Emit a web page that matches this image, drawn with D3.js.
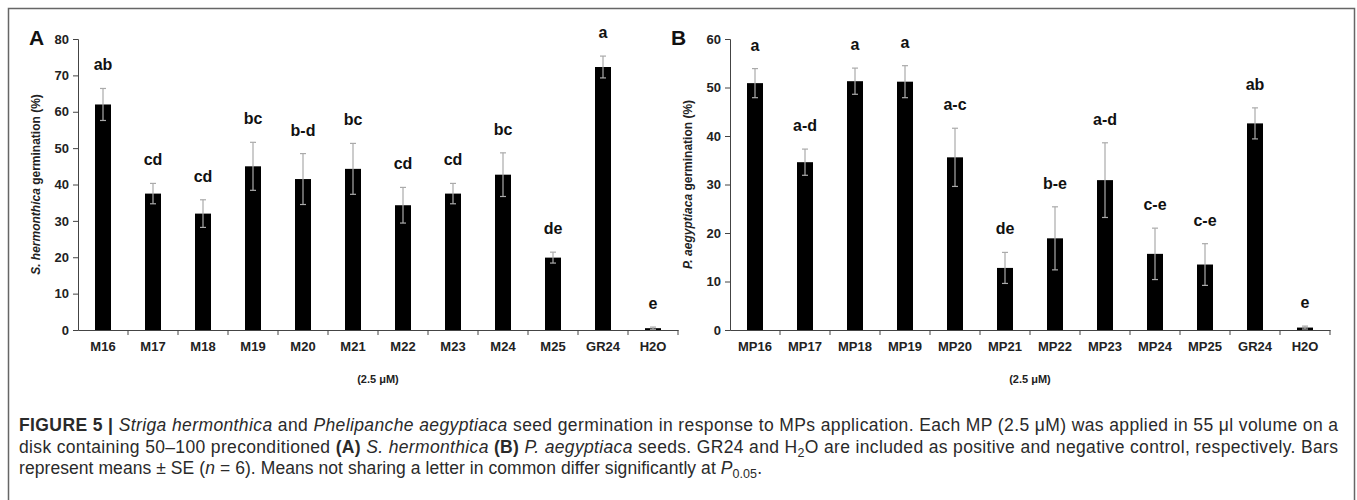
<!DOCTYPE html>
<html>
<head>
<meta charset="utf-8">
<script src="https://cdn.jsdelivr.net/npm/d3@7"></script>
<style>
  body { margin: 0; background: #fff; }
  svg { display: block; font-family: "Liberation Sans", Arial, sans-serif; }
</style>
</head>
<body>
<main></main>
<script>
// DATA
// panel A: S. hermonthica
const catsA = ["M16", "M17", "M18", "M19", "M20", "M21", "M22", "M23", "M24", "M25", "GR24", "H2O"];
const meansA = [62, 37.5, 32, 45, 41.5, 44.3, 34.3, 37.5, 42.7, 19.9, 72.3, 0.5];
const seA = [4.4, 2.8, 3.8, 6.6, 7, 7, 4.9, 2.8, 6, 1.5, 3, 0.3];
const lettersA = ["ab", "cd", "cd", "bc", "b-d", "bc", "cd", "cd", "bc", "de", "a", "e"];
const ticksA = [0, 10, 20, 30, 40, 50, 60, 70, 80];

// panel B: P. aegyptiaca
const catsB = ["MP16", "MP17", "MP18", "MP19", "MP20", "MP21", "MP22", "MP23", "MP24", "MP25", "GR24", "H2O"];
const meansB = [50.9, 34.6, 51.3, 51.2, 35.6, 12.8, 18.9, 30.9, 15.7, 13.5, 42.6, 0.5];
const seB = [3, 2.7, 2.7, 3.3, 6, 3.2, 6.5, 7.7, 5.3, 4.3, 3.2, 0.3];
const lettersB = ["a", "a-d", "a", "a", "a-c", "de", "b-e", "a-d", "c-e", "c-e", "ab", "e"];
const ticksB = [0, 10, 20, 30, 40, 50, 60];


// dimension
const W = 1357, H = 500;
const plotTop = 39, plotBottom = 330;

const svg = d3.select("main").append("svg").attr("width", W).attr("height", H);

// outer frame
svg.append("rect")
	.attr("x", 8.5).attr("y", 8.5)
	.attr("width", 1346).attr("height", 520)
	.attr("fill", "none").attr("stroke", "#666").attr("stroke-width", 1.5);


// draw one panel
function drawPanel(p) {
	const x = d3.scaleBand().domain(p.cats).range([p.left, p.left + 600]);
	const y = d3.scaleLinear().domain([0, d3.max(p.ticks)]).range([plotBottom, plotTop]);
	const g = svg.append("g");

	// y axis
	const yAxis = d3.axisLeft(y).tickValues(p.ticks).tickSize(5).tickPadding(4);
	const ya = g.append("g").attr("transform", "translate(" + p.left + ",0)").call(yAxis);
	ya.select(".domain").attr("stroke", "#444");
	ya.selectAll(".tick line").attr("stroke", "#444");
	ya.selectAll(".tick text").attr("font-size", 13).attr("font-weight", "bold")
		.attr("fill", "#222").attr("font-family", "Liberation Sans, Arial, sans-serif");

	// x axis: labels at centre, ticks at band edges
	const xAxis = d3.axisBottom(x).tickSize(0).tickPadding(12);
	const xa = g.append("g").attr("transform", "translate(0," + plotBottom + ")").call(xAxis);
	xa.select(".domain").attr("stroke", "#444");
	xa.selectAll(".tick text").attr("font-size", 13).attr("font-weight", "bold")
		.attr("fill", "#222").attr("font-family", "Liberation Sans, Arial, sans-serif");
	g.selectAll(".edge").data(p.cats).enter().append("line")
		.attr("x1", d => x(d) + x.bandwidth()).attr("x2", d => x(d) + x.bandwidth())
		.attr("y1", plotBottom).attr("y2", plotBottom + 5)
		.attr("stroke", "#444");

	// bars
	const bw = x.bandwidth() * 0.32;
	g.selectAll(".bar").data(p.means).enter().append("rect")
		.attr("x", (d, i) => x(p.cats[i]) + (x.bandwidth() - bw) / 2)
		.attr("y", d => y(d))
		.attr("width", bw)
		.attr("height", d => plotBottom - y(d))
		.attr("fill", "#000");

	// error bars
	const cx = i => x(p.cats[i]) + x.bandwidth() / 2;
	const eb = g.selectAll(".err").data(p.means).enter().append("g").attr("stroke", "#aaa").attr("stroke-width", 1.2);
	eb.append("line")
		.attr("x1", (d, i) => cx(i)).attr("x2", (d, i) => cx(i))
		.attr("y1", (d, i) => y(d + p.se[i])).attr("y2", (d, i) => y(Math.max(0, d - p.se[i])));
	eb.append("line")
		.attr("x1", (d, i) => cx(i) - 3).attr("x2", (d, i) => cx(i) + 3)
		.attr("y1", (d, i) => y(d + p.se[i])).attr("y2", (d, i) => y(d + p.se[i]));
	eb.append("line")
		.attr("x1", (d, i) => cx(i) - 3).attr("x2", (d, i) => cx(i) + 3)
		.attr("y1", (d, i) => y(Math.max(0, d - p.se[i]))).attr("y2", (d, i) => y(Math.max(0, d - p.se[i])));

	// significance letters
	g.selectAll(".letter").data(p.letters).enter().append("text")
		.attr("x", (d, i) => cx(i))
		.attr("y", (d, i) => y(p.means[i] + p.se[i]) - 18)
		.attr("text-anchor", "middle")
		.attr("font-size", 16).attr("font-weight", "bold").attr("fill", "#111")
		.text(d => d);

	// panel letter
	g.append("text").attr("x", p.labelX).attr("y", 45)
		.attr("font-size", 21).attr("font-weight", "bold").attr("fill", "#111")
		.text(p.label);

	// y title
	const yt = g.append("text")
		.attr("transform", "translate(" + p.titleX + "," + ((plotTop + plotBottom) / 2) + ") rotate(-90)")
		.attr("text-anchor", "middle")
		.attr("font-size", 12).attr("font-weight", "bold").attr("fill", "#222");
	yt.append("tspan").attr("font-style", "italic").text(p.species);
	yt.append("tspan").text(" germination (%)");

	// x title
	g.append("text").attr("x", p.left + 300).attr("y", 383)
		.attr("text-anchor", "middle")
		.attr("font-size", 11).attr("font-weight", "bold").attr("fill", "#222")
		.attr("font-family", "Liberation Sans Narrow, Liberation Sans, Arial, sans-serif")
		.text("(2.5 μM)");
}

drawPanel({ cats: catsA, means: meansA, se: seA, letters: lettersA, ticks: ticksA,
	left: 78, label: "A", labelX: 29, titleX: 40, species: "S. hermonthica" });
drawPanel({ cats: catsB, means: meansB, se: seB, letters: lettersB, ticks: ticksB,
	left: 730, label: "B", labelX: 671, titleX: 692, species: "P. aegyptiaca" });


// CAPTION
const cap = svg.append("g").attr("font-size", 17.5).attr("fill", "#2a2a2a");

function capLine(yPos, parts, len) {
	const t = cap.append("text").attr("x", 19).attr("y", yPos);
	if (len) t.attr("textLength", len).attr("lengthAdjust", "spacing");
	parts.forEach(pt => {
		const s = t.append("tspan").text(pt.t);
		if (pt.b) s.attr("font-weight", "bold");
		if (pt.i) s.attr("font-style", "italic");
		if (pt.sub) s.attr("font-size", 12.5).attr("baseline-shift", "-4");
	});
}

capLine(431, [
	{ t: "FIGURE 5 | ", b: true },
	{ t: "Striga hermonthica", i: true },
	{ t: " and " },
	{ t: "Phelipanche aegyptiaca", i: true },
	{ t: " seed germination in response to MPs application. Each MP (2.5 μM) was applied in 55 μl volume on a" }
], 1319);
capLine(453, [
	{ t: "disk containing 50–100 preconditioned " },
	{ t: "(A)", b: true },
	{ t: " " },
	{ t: "S. hermonthica", i: true },
	{ t: " " },
	{ t: "(B)", b: true },
	{ t: " " },
	{ t: "P. aegyptiaca", i: true },
	{ t: " seeds. GR24 and H" },
	{ t: "2", sub: true },
	{ t: "O are included as positive and negative control, respectively. Bars" }
], 1319);
capLine(474, [
	{ t: "represent means ± SE (" },
	{ t: "n", i: true },
	{ t: " = 6). Means not sharing a letter in common differ significantly at " },
	{ t: "P", i: true },
	{ t: "0.05", sub: true },
	{ t: "." }
], 743);
</script>
</body>
</html>
